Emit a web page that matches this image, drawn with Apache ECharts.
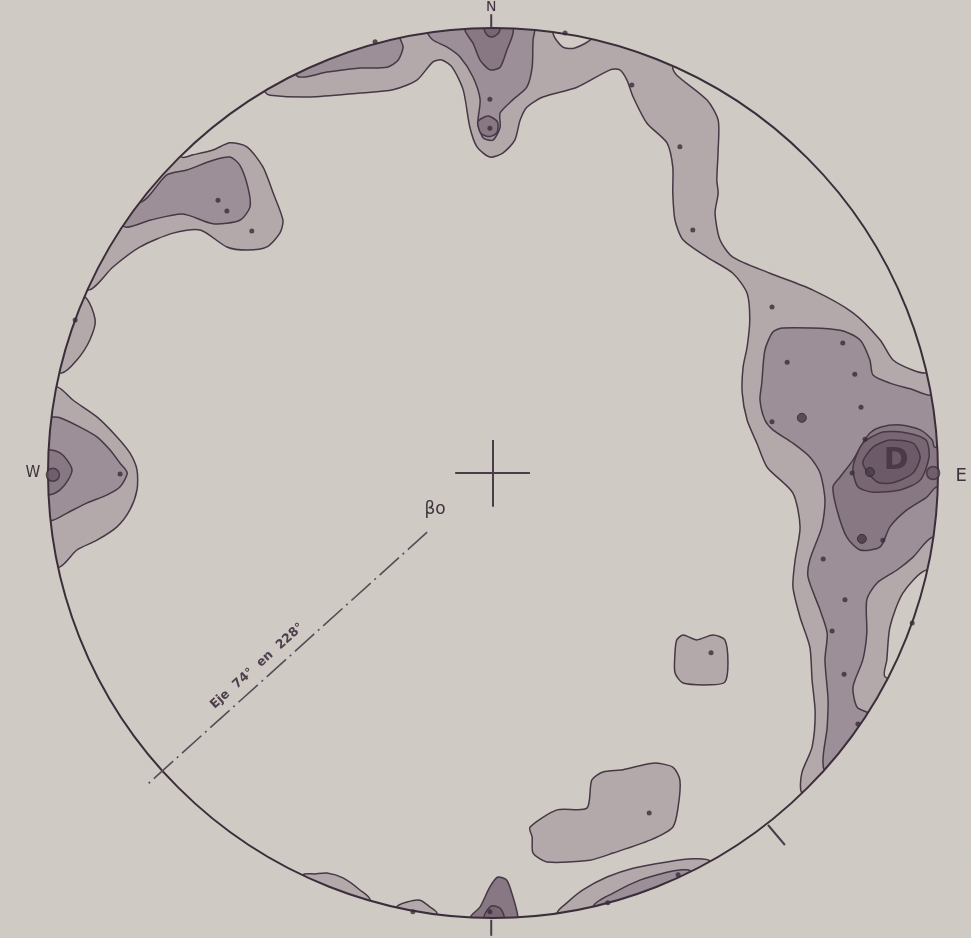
<!DOCTYPE html>
<html><head><meta charset="utf-8">
<script src="https://cdn.jsdelivr.net/npm/echarts@6/dist/echarts.min.js"></script>
<style>html,body{margin:0;padding:0;background:#d0cac4;}#c{width:971px;height:938px;}</style>
</head><body><div id="c"></div>
<script>
// Stereonet frame: centre 0,0 ; primitive circle radius 100 (x = East, y = North)
const netRadius = 100;

// ---- contour polygons (level 1 = lightest ... 5 = darkest); points beyond r=100 are hidden by the primitive circle
const bandNE_L1 = [[-51.2,85.6],[-50.1,84.9],[-41.1,84.5],[-29.9,85.4],[-22.5,86.1],[-17.1,88.3],[-13.5,92.4],[-11.5,92.8],[-9.2,91.2],[-6.7,86.1],[-5.2,77.7],[-3.6,73.3],[-0.7,71.0],[2.2,71.9],[4.9,74.8],[6.1,79.3],[7.6,82.2],[11.2,84.5],[18.9,86.7],[26.3,90.6],[28.5,90.6],[30.1,88.3],[31.5,84.5],[34.6,78.6],[39.1,74.2],[40.4,68.8],[40.4,62.9],[40.9,56.8],[42.7,52.4],[48.1,48.5],[53.9,44.9],[57.1,40.4],[57.7,34.4],[57.1,28.3],[56.2,23.8],[56.0,18.0],[57.1,11.9],[59.3,6.7],[61.6,1.3],[67.4,-4.5],[69.0,-12.1],[67.9,-19.5],[67.4,-25.6],[69.0,-32.4],[71.2,-39.1],[71.7,-46.5],[72.4,-53.9],[71.7,-61.6],[69.4,-67.4],[69.4,-71.9],[77.8,-80.6],[89.4,-67.4],[99.3,-51.7],[88.1,-45.8],[88.5,-42.0],[89.2,-34.6],[92.1,-27.0],[97.5,-21.8],[109.3,-24.4],[112,0],[109.1,25.2],[97.5,22.5],[94.4,23.1],[89.9,25.4],[87.0,29.9],[80.9,36.0],[71.9,41.1],[62.2,44.9],[53.9,48.5],[51.0,52.4],[49.9,58.4],[50.6,62.9],[50.3,65.8],[50.6,72.6],[50.6,79.3],[48.1,83.8],[41.3,89.4],[40.4,91.2],[45.6,102.3],[25.2,109.1],[22.5,98.0],[18.4,95.5],[15.7,95.7],[13.5,98.9],[15.2,111.0],[-19.4,110.3],[-57.5,96.1]];
const lobeNW_L1 = [[-69.9,71.0],[-67.4,71.5],[-62.9,72.6],[-59.1,74.2],[-55.3,73.3],[-51.7,68.8],[-49.4,62.9],[-47.2,56.8],[-47.9,53.9],[-50.8,50.8],[-55.3,50.1],[-59.8,50.8],[-65.8,54.6],[-71.9,53.9],[-79.3,50.8],[-85.4,46.3],[-91.0,41.1],[-102.1,46.1],[-91.7,64.2],[-78.7,79.7]];
const lobeNW_L2 = [[-79.3,60.9],[-73.3,67.0],[-68.8,68.1],[-62.9,70.3],[-59.1,71.0],[-56.9,69.2],[-55.1,64.3],[-54.6,59.8],[-56.9,56.8],[-62.9,56.0],[-69.7,58.2],[-77.1,56.8],[-82.7,55.3],[-93.1,62.3],[-88.9,68.2]];
const lensWNW_L1 = [[-91.7,39.6],[-89.4,34.4],[-90.6,29.9],[-93.5,25.4],[-96.9,22.5],[-109.1,25.4],[-102.8,44.5]];
const lobeW_L1 = [[-97.8,19.3],[-94.4,16.4],[-89.0,12.6],[-84.5,8.1],[-81.6,4.5],[-80.0,0.7],[-80.0,-3.8],[-81.6,-8.3],[-84.5,-12.1],[-89.0,-15.1],[-93.5,-17.3],[-97.3,-21.1],[-109.4,-23.7],[-112,0],[-109.9,21.7]];
const lobeW_L2 = [[-99.2,12.6],[-97.3,12.4],[-92.8,10.3],[-89.0,8.1],[-86.1,5.2],[-83.8,2.2],[-82.2,0],[-83.8,-3.1],[-86.7,-4.9],[-91.2,-6.7],[-95.7,-9.0],[-98.9,-10.6],[-111.4,-11.9],[-111.1,14.1]];
const lobeW_L3 = [[-99.6,5.2],[-97.3,4.5],[-95.7,2.9],[-94.6,0.7],[-95.5,-1.6],[-97.3,-3.8],[-99.6,-4.9],[-111.8,-5.5],[-111.8,5.8]];
const lobeNW2_L2 = [[-44.0,89.2],[-37.3,90.1],[-29.9,91.0],[-23.8,91.2],[-21.3,92.8],[-20.2,95.7],[-20.9,97.7],[-23.3,109.6],[-49.7,100.4]];
const lobeN_L2 = [[-14.8,99.1],[-13.5,97.3],[-10.3,95.7],[-7.4,93.5],[-4.5,89.0],[-2.9,83.9],[-3.4,78.6],[-2.2,75.3],[0,74.8],[1.6,77.7],[1.6,80.9],[4.5,83.9],[7.6,86.7],[8.8,91.2],[9.0,97.3],[9.4,99.5],[10.5,111.5],[-16.6,110.8]];
const lobeN_L3 = [[-6.3,99.5],[-4.5,96.6],[-2.9,92.8],[-0.7,90.6],[1.6,91.2],[3.1,95.0],[4.5,98.9],[5.0,111.9],[-7.0,111.8]];
const blobN_L3 = [[-3.4,79.0],[-2.7,76.3],[-0.7,75.6],[0.9,76.5],[1.0,78.9],[-1.1,80.2]];
const lobeN_L4 = [[-2.0,99.8],[-1.3,98.4],[-0.2,98.0],[1.1,98.7],[1.6,99.9],[1.8,112],[-2.2,112]];
const lobeE_L2 = [[98.2,17.5],[94.4,18.7],[89.2,20.2],[85.4,22.0],[84.7,25.4],[82.5,29.9],[78.0,32.1],[65.2,32.6],[62.9,31.7],[61.1,27.6],[60.4,20.2],[60.0,16.4],[61.1,11.9],[62.9,9.7],[67.4,6.7],[71.2,3.6],[73.5,0],[74.6,-6.1],[73.9,-12.1],[71.2,-19.5],[70.8,-23.4],[73.5,-30.8],[75.1,-36.0],[74.6,-42.0],[75.3,-51.0],[75.1,-57.1],[74.4,-66.7],[83.3,-74.7],[94.4,-60.3],[84.3,-53.9],[81.8,-52.6],[80.9,-48.1],[83.1,-42.0],[84.0,-36.0],[84.0,-28.5],[86.3,-24.7],[90.8,-21.8],[94.4,-18.9],[98.9,-14.4],[110.8,-16.2],[112,0],[110.3,19.7]];
const lobeE_L3 = [[84.7,9.0],[87.0,10.3],[91.5,10.8],[96.0,9.7],[98.7,7.4],[99.3,5.8],[111.8,6.5],[111.8,-3.3],[99.8,-3.1],[97.5,-5.4],[93.0,-8.3],[89.2,-12.1],[87.0,-16.6],[82.5,-17.3],[79.5,-14.4],[77.3,-8.3],[76.4,-3.1],[78.0,-0.9],[80.9,2.9],[83.1,6.7]];
const lobeE_L4 = [[80.9,1.3],[83.1,6.7],[87.6,9.2],[93.0,9.0],[97.3,7.4],[98.0,3.6],[96.0,-1.6],[91.5,-3.8],[85.4,-4.3],[82.0,-3.1]];
const lobeE_L5 = [[83.1,2.2],[85.4,5.8],[89.2,7.4],[94.4,6.7],[96.0,3.6],[94.4,0],[89.9,-2.2],[86.3,-2.0]];
const lobeSW1_L1 = [[-42.7,-90.3],[-40.0,-90.1],[-37.3,-89.9],[-33.7,-91.0],[-29.9,-93.7],[-27.6,-96.0],[-31.0,-107.6],[-47.9,-101.2]];
const lobeSW2_L1 = [[-21.6,-97.5],[-19.3,-96.4],[-16.4,-96.0],[-14.2,-97.5],[-12.6,-98.9],[-14.2,-111.1],[-24.3,-109.3]];
const lobeS_L3 = [[-5.2,-100.0],[-2.9,-97.5],[-0.7,-93.0],[1.1,-90.8],[3.1,-91.5],[4.5,-95.3],[5.6,-99.8],[6.3,-111.8],[-5.8,-111.8]];
const lobeS_L4 = [[-2.0,-99.6],[-0.4,-97.3],[1.6,-97.8],[2.5,-99.7],[2.8,-112],[-2.2,-112]];
const lobeSE_L1 = [[14.4,-98.9],[16.6,-96.6],[20.2,-93.7],[25.6,-90.8],[31.5,-88.8],[39.1,-87.4],[44.9,-86.7],[48.8,-87.2],[54.7,-97.8],[33.4,-106.9],[16.2,-110.8]];
const lobeSE_L2 = [[22.5,-97.5],[27.0,-94.4],[33.0,-91.5],[39.1,-89.7],[42.0,-89.2],[44.3,-89.4],[49.8,-100.3],[25.2,-109.1]];
const blobS_L1 = [[8.3,-79.6],[14.4,-75.7],[21.1,-75.3],[22.2,-69.0],[24.7,-67.2],[29.2,-66.7],[36.0,-65.2],[40.4,-66.1],[42.0,-69.0],[41.6,-75.1],[40.4,-79.6],[35.3,-82.5],[27.0,-85.4],[21.8,-87.0],[12.1,-87.4],[9.0,-85.4],[8.8,-81.8]];
const blobSE_L1 = [[41.3,-37.5],[42.7,-36.4],[45.8,-37.5],[49.4,-36.4],[52.1,-37.5],[52.8,-42.7],[52.1,-47.0],[48.8,-47.6],[42.7,-47.2],[40.9,-44.9],[40.9,-40.4]];

const contourPolys = [bandNE_L1, lobeNW_L1, lensWNW_L1, lobeW_L1, lobeSW1_L1, lobeSW2_L1, lobeSE_L1, blobS_L1, blobSE_L1,
  lobeNW_L2, lobeW_L2, lobeNW2_L2, lobeN_L2, lobeE_L2, lobeSE_L2,
  lobeW_L3, lobeN_L3, blobN_L3, lobeE_L3, lobeS_L3,
  lobeN_L4, lobeE_L4, lobeS_L4, lobeE_L5];
const contourLevels = [1,1,1,1,1,1,1,1,1, 2,2,2,2,2,2, 3,3,3,3,3, 4,4,4,5];

// ---- poles (points)
const poles = [[-0.7,84.0],[-0.7,77.5],[16.2,98.9],[-26.5,96.9],[31.2,87.2],[42.0,73.3],[44.9,54.6],[62.7,37.3],[78.6,29.2],[66.1,24.9],[81.3,22.2],[82.7,14.8],[62.7,11.5],[83.6,7.6],[80.7,0],[87.6,-15.1],[74.2,-19.3],[79.1,-28.5],[76.2,-35.5],[78.9,-45.2],[82.0,-56.4],[94.2,-33.7],[-61.8,61.3],[-59.8,58.9],[-54.2,54.4],[-83.8,-0.2],[-93.9,34.4],[-18.0,-98.6],[25.8,-96.6],[41.6,-90.3],[35.1,-76.4],[49.0,-40.4],[-0.7,-98.6]];
const polesDouble = [[69.4,12.4],[84.7,0.2],[82.9,-14.8]];
const polesCircled = [[98.9,0],[-98.9,-0.4]];

// ---- reference lines
const crossH = [[-8.5,0],[8.3,0]];
const crossV = [[0,7.4],[0,-7.6]];
const tickN = [[-0.4,100],[-0.4,103.1]];
const tickS = [[-0.4,-100.4],[-0.4,-104]];
const tickSE = [[61.8,-79.1],[65.6,-83.6]];
const betaAxis = [[-14.8,-13.3],[-77.8,-70.1]];

// ---- labels
const labelTexts = ['N','W','E','D','βo','Eje  74°  en  228°'];
const labelPos = [[-0.4,104.6],[-103.4,0],[105.2,-0.7],[90.6,2.7],[-13.0,-8.3],[-53.0,-43.4]];

const BG = '#d0cac4';
const INK = '#463845';
const levelFill = ['#b3a9ab','#9d8f97','#887883','#786672','#6d5a69'];

const chart = echarts.init(document.getElementById('c'), null, {renderer:'canvas'});

function renderContour(params, api){
  const i = params.dataIndex;
  const pts = contourPolys[i].map(p => api.coord(p));
  return {type:'polygon', shape:{points:pts, smooth:0.25},
    style:{fill: levelFill[contourLevels[i]-1], stroke: INK, lineWidth:1.5}};
}
function renderFrame(params, api){
  const c = api.coord([0,0]);
  const r = api.size([netRadius,0])[0];
  return {type:'group', children:[
    {type:'ring', shape:{cx:c[0], cy:c[1], r:r*1.35, r0:r}, style:{fill:BG}},
    {type:'circle', shape:{cx:c[0], cy:c[1], r:r}, style:{fill:null, stroke:'#3b2e3b', lineWidth:2}}
  ]};
}
const segs = [crossH, crossV, tickN, tickS, tickSE, betaAxis];
function renderSeg(params, api){
  const s = segs[params.dataIndex];
  const a = api.coord(s[0]), b = api.coord(s[1]);
  const isAxis = s === betaAxis;
  return {type:'line', shape:{x1:a[0],y1:a[1],x2:b[0],y2:b[1]},
    style:{stroke: isAxis ? '#5a4b58' : '#4a3c49', lineWidth: isAxis ? 1.6 : 2, lineDash: isAxis ? [26,5,2,5] : null}};
}
function renderLabel(params, api){
  const i = params.dataIndex;
  const p = api.coord(labelPos[i]);
  const t = labelTexts[i];
  let font = '15px "DejaVu Sans", sans-serif', rot = 0, fill = '#3f323e';
  if (t === 'E') font = '18px "DejaVu Sans", sans-serif';
  if (t === 'N') font = '14px "DejaVu Sans", sans-serif';
  if (t === 'D') { font = 'bold 30px "DejaVu Sans", sans-serif'; fill = '#4a3947'; }
  if (t === 'βo') font = '17px "DejaVu Sans", sans-serif';
  if (i === labelTexts.length - 1) {
    const a = api.coord(betaAxis[0]), b = api.coord(betaAxis[1]);
    rot = Math.atan2(b[1]-a[1], a[0]-b[0]);
    font = '600 12.5px "DejaVu Sans", sans-serif'; fill = '#4e404c';
  }
  return {type:'text', x:p[0], y:p[1], rotation:rot,
    style:{text:t, font:font, fill:fill, align:'center', verticalAlign:'middle'}};
}

chart.setOption({
  backgroundColor: BG,
  animation: false,
  grid: {left:48, top:28, width:890, height:890},
  xAxis: {type:'value', min:-100, max:100, show:false},
  yAxis: {type:'value', min:-100, max:100, show:false},
  series: [
    {type:'custom', z:1, clip:false, silent:true, data: contourPolys.map(() => [0,0]), renderItem: renderContour},
    {type:'custom', z:2, clip:false, silent:true, data: [[0,0]], renderItem: renderFrame},
    {type:'custom', z:3, clip:false, silent:true, data: segs.map(() => [0,0]), renderItem: renderSeg},
    {type:'scatter', z:4, silent:true, data: poles, symbolSize:5, itemStyle:{color:'#3a2c38'}},
    {type:'scatter', z:4, silent:true, data: polesDouble, symbolSize:9, itemStyle:{color:'#4a3a47', borderColor:'#2f242e', borderWidth:1}},
    {type:'scatter', z:4, silent:true, data: polesCircled, symbolSize:13, itemStyle:{color:'#6a5866', borderColor:'#3b2e3a', borderWidth:1.5}},
    {type:'custom', z:5, clip:false, silent:true, data: labelTexts.map(() => [0,0]), renderItem: renderLabel}
  ]
});
</script></body></html>
